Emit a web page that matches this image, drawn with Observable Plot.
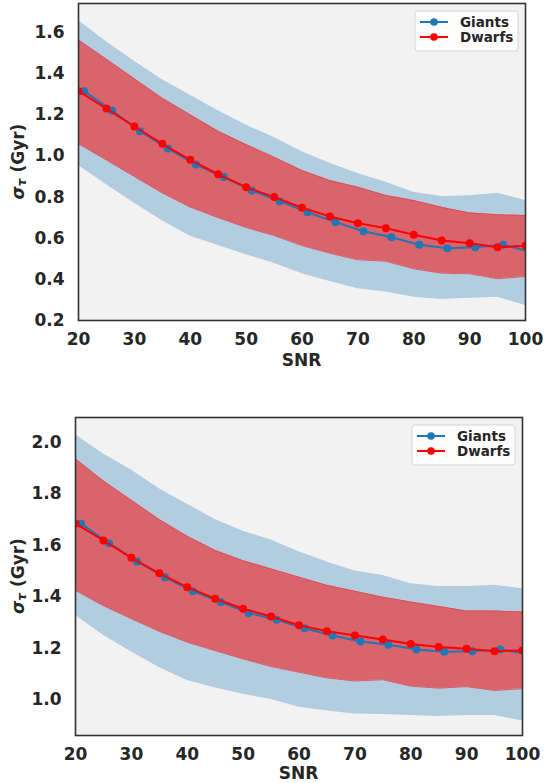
<!DOCTYPE html>
<html>
<head>
<meta charset="utf-8">
<script src="https://cdn.jsdelivr.net/npm/d3@7"></script>
<script src="https://cdn.jsdelivr.net/npm/@observablehq/plot@0.6"></script>
<style>
  body { margin: 0; background: #ffffff; }
  #wrap { width: 544px; }
  #wrap svg { display: block; }
</style>
</head>
<body>
<div id="wrap"></div>
<script>
// ---------- data ----------
const snr = [20, 25, 30, 35, 40, 45, 50, 55, 60, 65, 70, 75, 80, 85, 90, 95, 100];
const snrGiants = [21, 26, 31, 36, 41, 46, 51, 56, 61, 66, 71, 76, 81, 86, 91, 96, 101];
const xTicks = [20, 30, 40, 50, 60, 70, 80, 90, 100];

// Top panel
const giantsTop   = [1.315, 1.221, 1.120, 1.036, 0.958, 0.897, 0.832, 0.780, 0.726, 0.678, 0.634, 0.605, 0.568, 0.551, 0.556, 0.568, 0.533];
const dwarfsTop   = [1.315, 1.230, 1.143, 1.059, 0.981, 0.911, 0.848, 0.800, 0.748, 0.706, 0.673, 0.649, 0.617, 0.589, 0.576, 0.556, 0.563];
const giantsTopHi = [1.658, 1.555, 1.460, 1.370, 1.295, 1.220, 1.150, 1.090, 1.020, 0.965, 0.915, 0.872, 0.824, 0.803, 0.806, 0.819, 0.783];
const giantsTopLo = [0.953, 0.860, 0.770, 0.685, 0.610, 0.565, 0.520, 0.478, 0.427, 0.390, 0.354, 0.338, 0.313, 0.302, 0.308, 0.313, 0.273];
const dwarfsTopHi = [1.564, 1.470, 1.375, 1.280, 1.200, 1.120, 1.055, 0.994, 0.929, 0.880, 0.848, 0.808, 0.783, 0.750, 0.723, 0.714, 0.710];
const dwarfsTopLo = [1.059, 0.980, 0.900, 0.820, 0.751, 0.700, 0.652, 0.613, 0.564, 0.527, 0.495, 0.488, 0.451, 0.430, 0.427, 0.403, 0.414];
const yTicksTop = [0.2, 0.4, 0.6, 0.8, 1.0, 1.2, 1.4, 1.6];

// Bottom panel
const giantsBot   = [1.684, 1.608, 1.537, 1.476, 1.421, 1.379, 1.337, 1.310, 1.277, 1.249, 1.226, 1.213, 1.195, 1.186, 1.188, 1.195, 1.176];
const dwarfsBot   = [1.684, 1.619, 1.551, 1.491, 1.437, 1.392, 1.353, 1.323, 1.289, 1.266, 1.249, 1.233, 1.216, 1.204, 1.197, 1.188, 1.191];
const giantsBotHi = [2.030, 1.955, 1.893, 1.820, 1.760, 1.700, 1.655, 1.620, 1.575, 1.535, 1.500, 1.482, 1.450, 1.440, 1.440, 1.444, 1.431];
const giantsBotLo = [1.327, 1.250, 1.185, 1.125, 1.074, 1.045, 1.020, 1.000, 0.970, 0.955, 0.944, 0.942, 0.938, 0.934, 0.938, 0.938, 0.916];
const dwarfsBotHi = [1.936, 1.850, 1.775, 1.700, 1.635, 1.580, 1.540, 1.508, 1.476, 1.444, 1.421, 1.398, 1.379, 1.362, 1.344, 1.344, 1.340];
const dwarfsBotLo = [1.424, 1.365, 1.314, 1.265, 1.223, 1.190, 1.158, 1.128, 1.106, 1.084, 1.072, 1.077, 1.052, 1.044, 1.050, 1.035, 1.042];
const yTicksBot = [1.0, 1.2, 1.4, 1.6, 1.8, 2.0];

const seriesNames = ["Giants", "Dwarfs"];

// ---------- style ----------
const FONT = "DejaVu Sans, sans-serif";
const TXT = "#262626";
const BG = "#f2f2f2";
const BLUE = "#1f77b4";
const RED = "#ff0000";
const BLUE_BAND = "#b3cde0";
const RED_BAND = "#d9646c";

function panel(opts) {
  const {gMid, dMid, gHi, gLo, dHi, dLo, yDomain, yTicks, height, marginTop, marginBottom, marginLeft, marginRight, snrOffset} = opts;
  const bands = snr.map((x, i) => ({x, gHi: gHi[i], gLo: gLo[i], dHi: dHi[i], dLo: dLo[i], d: dMid[i]}));
  const gl = snrGiants.map((x, i) => ({x, y: gMid[i]}));
  const plot = Plot.plot({
    width: 544,
    height,
    marginTop, marginBottom, marginLeft, marginRight,
    style: {fontFamily: FONT, fontSize: "17px", fontWeight: "bold", color: TXT, background: "transparent"},
    x: {domain: [20, 100], ticks: xTicks, tickSize: 0, tickPadding: 12, label: null},
    y: {domain: yDomain, ticks: yTicks, tickSize: 0, tickPadding: 14, label: null, tickFormat: d3.format(".1f")},
    marks: [
      Plot.frame({fill: BG}),
      Plot.areaY(bands, {x: "x", y1: "gLo", y2: "gHi", fill: BLUE_BAND, clip: "frame"}),
      Plot.areaY(bands, {x: "x", y1: "dLo", y2: "dHi", fill: RED_BAND, clip: "frame"}),
      Plot.lineY(bands, {x: "x", y: "dHi", stroke: "#e0454f", strokeWidth: 0.8, clip: "frame"}),
      Plot.lineY(bands, {x: "x", y: "dLo", stroke: "#e0454f", strokeWidth: 0.8, clip: "frame"}),
      Plot.lineY(gl, {x: "x", y: "y", stroke: BLUE, strokeWidth: 2, clip: "frame"}),
      Plot.dot(gl, {x: "x", y: "y", fill: BLUE, r: 4, clip: "frame"}),
      Plot.lineY(bands, {x: "x", y: "d", stroke: RED, strokeWidth: 2, clip: "frame"}),
      Plot.dot(bands, {x: "x", y: "d", fill: RED, r: 4, clip: "frame"}),
      Plot.axisX({ticks: xTicks, tickSize: 0, tickPadding: 12, fontSize: 17, fontWeight: "bold", fill: TXT}),
      Plot.axisY({ticks: yTicks, tickSize: 0, tickPadding: 14, fontSize: 17, fontWeight: "bold", fill: TXT, tickFormat: d3.format(".1f")}),
      Plot.frame({stroke: "#333333", strokeWidth: 1.6})
    ]
  });

  const svg = d3.select(plot);
  const xr = plot.scale("x").range;
  const yr = plot.scale("y").range; // [bottom, top]
  const left = Math.min(...xr), right = Math.max(...xr);
  const top = Math.min(...yr), bottom = Math.max(...yr);

  // x label
  svg.append("text")
    .attr("x", (left + right) / 2)
    .attr("y", bottom + snrOffset)
    .attr("text-anchor", "middle")
    .attr("dominant-baseline", "central")
    .attr("font-family", FONT).attr("font-weight", "bold").attr("font-size", 17)
    .attr("fill", TXT)
    .text("SNR");

  // y label with subscript
  const yl = svg.append("text")
    .attr("transform", `translate(18, ${(top + bottom) / 2}) rotate(-90)`)
    .attr("text-anchor", "middle")
    .attr("dominant-baseline", "central")
    .attr("font-family", FONT).attr("font-weight", "bold").attr("font-size", 17)
    .attr("fill", TXT);
  yl.append("tspan").attr("font-style", "italic").text("σ");
  yl.append("tspan").attr("font-size", 12).attr("dy", 4).attr("font-style", "italic").text("τ");
  yl.append("tspan").attr("dy", -4).text(" (Gyr)");

  // legend
  const lw = 103, lh = 40;
  const lx = right - 7 - lw, ly = top + 8;
  const lg = svg.append("g").attr("text-anchor", "start");
  lg.append("rect").attr("x", lx).attr("y", ly).attr("width", lw).attr("height", lh)
    .attr("rx", 3).attr("fill", "#ffffff").attr("fill-opacity", 0.8)
    .attr("stroke", "#d6d6d6").attr("stroke-width", 1);
  const cols = [BLUE, RED];
  seriesNames.forEach((name, i) => {
    const cy = ly + 11 + i * 15;
    lg.append("line").attr("x1", lx + 5).attr("x2", lx + 33).attr("y1", cy).attr("y2", cy)
      .attr("stroke", cols[i]).attr("stroke-width", 2);
    lg.append("circle").attr("cx", lx + 19).attr("cy", cy).attr("r", 3.8).attr("fill", cols[i]);
    lg.append("text").attr("x", lx + 45).attr("y", cy)
      .attr("text-anchor", "start")
      .attr("dominant-baseline", "central")
      .attr("font-family", FONT).attr("font-weight", "bold").attr("font-size", 13.5)
      .attr("fill", TXT).text(name);
  });
  return plot;
}

const wrap = document.getElementById("wrap");
wrap.appendChild(panel({
  gMid: giantsTop, dMid: dwarfsTop, gHi: giantsTopHi, gLo: giantsTopLo, dHi: dwarfsTopHi, dLo: dwarfsTopLo,
  yDomain: [0.2, 1.741], yTicks: yTicksTop,
  height: 390, marginTop: 3, marginBottom: 70, marginLeft: 78, marginRight: 19, snrOffset: 40
}));
wrap.appendChild(panel({
  gMid: giantsBot, dMid: dwarfsBot, gHi: giantsBotHi, gLo: giantsBotLo, dHi: dwarfsBotHi, dLo: dwarfsBotLo,
  yDomain: [0.86, 2.097], yTicks: yTicksBot,
  height: 393, marginTop: 27, marginBottom: 48, marginLeft: 75, marginRight: 22, snrOffset: 38
}));
</script>
</body>
</html>
